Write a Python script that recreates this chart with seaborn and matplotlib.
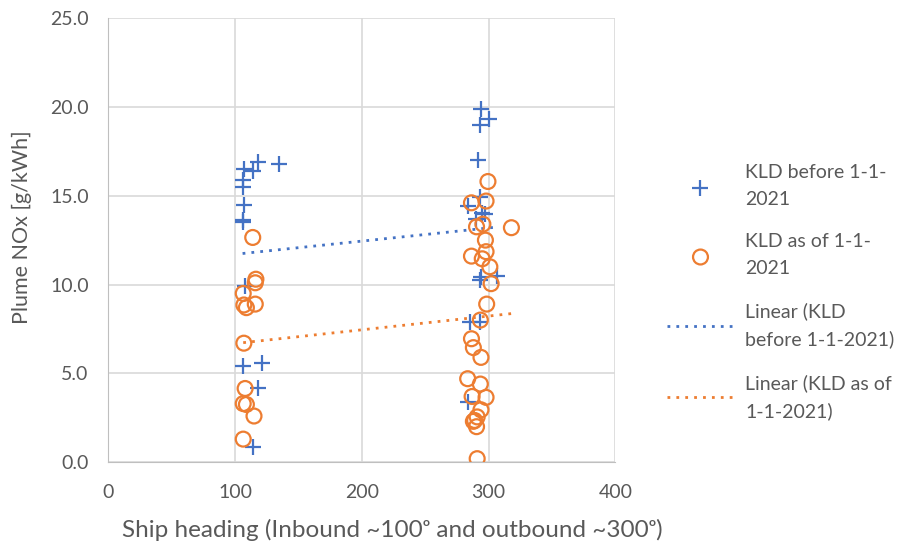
import numpy as np
import pandas as pd
import seaborn as sns
import matplotlib.pyplot as plt

# KLD before 1-1-2021 (blue pluses)
before_heading = [118, 135, 107, 114, 106, 106, 107, 106, 106, 108,
                  106, 121, 118, 114,
                  294, 300, 293.5, 291.5, 293.5, 284, 295, 290, 297,
                  294, 307, 293, 285.5, 293.5, 284]
before_nox = [16.9, 16.8, 16.5, 16.4, 15.9, 15.5, 14.5, 13.65, 13.5, 9.9,
              5.4, 5.6, 4.2, 0.85,
              19.9, 19.3, 19.0, 17.0, 14.95, 14.4, 14.0, 13.7, 13.95,
              10.4, 10.5, 10.25, 7.9, 7.9, 3.4]

# KLD as of 1-1-2021 (orange circles)
asof_heading = [114, 116.5, 116, 106.5, 107, 116, 109, 107, 108,
                106.5, 109, 115, 106.5,
                299.5, 298, 286.5, 290.5, 295.5, 318, 297.5, 298, 286.5,
                295, 301, 302, 298.5, 293.5, 286.5, 288, 294, 283.5,
                293.5, 298, 287, 294, 291, 289, 288, 290.5, 291]
asof_nox = [12.65, 10.3, 10.1, 9.5, 8.85, 8.9, 8.7, 6.7, 4.15,
            3.3, 3.25, 2.6, 1.3,
            15.8, 14.7, 14.6, 13.25, 13.4, 13.2, 12.5, 11.85, 11.6,
            11.45, 11.0, 10.05, 8.9, 8.0, 6.95, 6.45, 5.9, 4.7,
            4.4, 3.65, 3.7, 2.95, 2.55, 2.35, 2.3, 2.0, 0.2]

label_before = "KLD before 1-1-\n2021"
label_asof = "KLD as of 1-1-\n2021"
label_fit_before = "Linear (KLD\nbefore 1-1-2021)"
label_fit_asof = "Linear (KLD as of\n1-1-2021)"

blue = "#4472C4"
orange = "#ED7D31"
grey_txt = "#595959"

sns.set_style("whitegrid", {"grid.color": "#d9d9d9", "axes.edgecolor": "#bfbfbf"})
plt.rcParams['font.family'] = ['Lato', 'DejaVu Sans']

df_b = pd.DataFrame({"heading": before_heading, "nox": before_nox})
df_a = pd.DataFrame({"heading": asof_heading, "nox": asof_nox})

fig = plt.figure(figsize=(9.09, 5.47), dpi=100)
ax = fig.add_axes([0.119, 0.155, 0.558, 0.812])

sns.scatterplot(data=df_b, x="heading", y="nox", ax=ax, marker="+", s=120,
                color=blue, linewidth=1.6, label=label_before, zorder=3)
sns.scatterplot(data=df_a, x="heading", y="nox", ax=ax, marker="o", s=115,
                facecolor="none", edgecolor=orange, linewidth=1.6,
                label=label_asof, zorder=3)

# excel style linear trendlines over each series' x range
for d, c, lab in [(df_b, blue, label_fit_before), (df_a, orange, label_fit_asof)]:
    k, b = np.polyfit(d["heading"], d["nox"], 1)
    xs = np.array([d["heading"].min(), d["heading"].max()])
    sns.lineplot(x=xs, y=k * xs + b, ax=ax, color=c, linestyle=(0, (1, 2.2)),
                 linewidth=2, label=lab, zorder=2)

ax.set_xlim(0, 400)
ax.set_ylim(0, 25)
ax.set_xticks([0, 100, 200, 300, 400])
ax.set_yticks(np.arange(0, 26, 5))
ax.set_yticklabels([f"{v:.1f}" for v in np.arange(0, 26, 5)])
ax.tick_params(axis="both", colors=grey_txt, labelsize=14, length=0)
ax.tick_params(axis="x", pad=16)
ax.tick_params(axis="y", pad=14)
ax.set_xlabel("Ship heading (Inbound ~100\u1d52 and outbound ~300\u1d52)",
              fontsize=17.5, color=grey_txt)
ax.xaxis.set_label_coords(0.56, -0.127)
ax.set_ylabel("Plume NOx [g/kWh]", fontsize=15.5, color=grey_txt)
ax.yaxis.set_label_coords(-0.15, 0.53)
for s in ["top", "right"]:
    ax.spines[s].set_visible(False)
ax.grid(True, linewidth=1.2)
ax.set_axisbelow(True)

leg = ax.legend(loc="center left", bbox_to_anchor=(0.715, 0.466),
                bbox_transform=fig.transFigure, frameon=False, fontsize=14,
                labelspacing=1.3, handlelength=3.4, handletextpad=0.6)
for t in leg.get_texts():
    t.set_color(grey_txt)
    t.set_linespacing(1.7)

plt.savefig("out.png", dpi=100)
